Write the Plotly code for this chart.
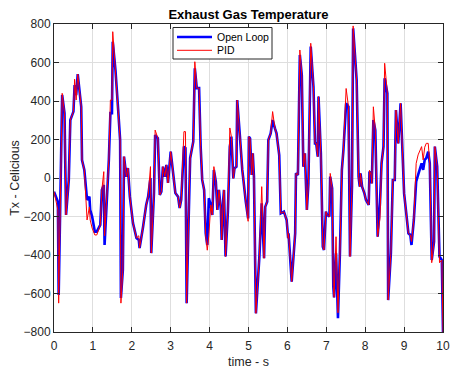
import plotly.graph_objects as go

# time (s)
t = [0.00, 0.10, 0.12, 0.21, 0.27, 0.31, 0.38, 0.42, 0.50, 0.53, 0.57, 0.61, 0.70, 0.72, 0.78,
     0.85, 0.91, 0.93, 0.98, 1.05, 1.10, 1.19, 1.23, 1.28, 1.30, 1.41, 1.45, 1.49, 1.51, 1.58,
     1.65, 1.70, 1.72, 1.77, 1.80, 1.86, 1.90, 1.95, 2.03, 2.12, 2.18, 2.20, 2.29, 2.37, 2.42,
     2.48, 2.50, 2.57, 2.60, 2.67, 2.72, 2.76, 2.80, 2.85, 2.89, 2.93, 3.00, 3.06, 3.12, 3.19,
     3.23, 3.27, 3.34, 3.38, 3.41, 3.44, 3.50, 3.58, 3.62, 3.67, 3.73, 3.77, 3.81, 3.86, 3.90,
     3.94, 3.98, 4.03, 4.07, 4.11, 4.16, 4.20, 4.24, 4.29, 4.31, 4.35, 4.37, 4.41, 4.47, 4.52,
     4.56, 4.61, 4.64, 4.69, 4.71, 4.78, 4.84, 4.93, 4.99, 5.01, 5.04, 5.08, 5.11, 5.14, 5.19,
     5.28, 5.34, 5.40, 5.43, 5.48, 5.51, 5.57, 5.62, 5.68, 5.72, 5.79, 5.83, 5.91, 5.95, 5.98,
     6.02, 6.03, 6.11, 6.20, 6.22, 6.27, 6.32, 6.37, 6.41, 6.45, 6.50, 6.54, 6.60, 6.67, 6.71,
     6.74, 6.78, 6.80, 6.86, 6.91, 6.94, 6.99, 7.02, 7.08, 7.10, 7.15, 7.18, 7.20, 7.25, 7.30,
     7.35, 7.40, 7.44, 7.51, 7.57, 7.61, 7.66, 7.69, 7.74, 7.78, 7.83, 7.86, 7.88, 7.92, 7.98,
     8.02, 8.09, 8.11, 8.15, 8.17, 8.21, 8.26, 8.32, 8.38, 8.42, 8.47, 8.50, 8.57, 8.59, 8.66,
     8.71, 8.76, 8.79, 8.85, 8.91, 8.96, 9.00, 9.06, 9.11, 9.16, 9.19, 9.25, 9.31, 9.36, 9.45,
     9.49, 9.53, 9.57, 9.62, 9.66, 9.71, 9.77, 9.79, 9.85, 9.91, 9.97, 10.00]

# Open Loop exhaust gas temperature
open_loop = [-71, -123, -608, 431, 337, -192, -10, 301, 345, 483, 431, 540, 370, 93, 42,
             -114, -97, -166, -200, -279, -279, -244, -62, -36, -348, 94, 337, 337, 708, 561,
             353, 197, -623, -478, 111, 7, 52, -97, -234, -312, -322, -364, -253, -140, -97,
             0, -390, -78, 223, 207, -88, -71, 59, 7, 68, -26, 137, 26, -78, -97,
             -156, -114, 163, 155, -650, -390, 103, 189, 570, 467, 467, 163, -10, -62, -287,
             -348, -105, -140, -192, 42, -19, -166, -62, -166, -322, -114, -62, -408, -175, 163,
             215, -2, 50, 59, 405, 215, 42, -123, -210, 215, 206, 16, 128, 7, -703,
             -408, -132, -417, -150, -123, 197, 232, 301, 258, 232, 119, -184, -175, -201, -218,
             -313, -288, -538, -287, 24, 16, 639, 535, 59, 128, -166, -28, 683, 474, 180,
             180, 111, 423, 128, -357, -374, -175, -192, -200, 7, -54, -564, -620, -391, -729,
             -390, 42, 145, 388, 371, -408, -45, 777, 630, 509, 7, -45, 24, -45, -80,
             -114, -140, 33, 16, -28, 301, 249, -305, -130, 76, 163, 518, 440, -634, -391,
             -10, -10, 353, 180, 388, 163, -80, -192, -287, -296, -348, -218, -19, 16, 76,
             42, 94, 103, 137, 76, -426, -331, 163, 59, -408, -426, -800]

# PID-controlled exhaust gas temperature
pid = [-71, -166, -650, 440, 337, -192, -10, 301, 345, 513, 405, 540, 370, 93, 42,
       -218, -150, -218, -260, -296, -296, -244, -62, 33, -300, 94, 405, 405, 760, 561,
       353, 197, -650, -478, 111, 7, 52, -97, -234, -312, -300, -364, -253, -140, -97,
       59, -390, -78, 249, 207, -88, -71, 59, 7, 68, -26, 137, 26, -78, -97,
       -156, -114, 241, 241, -650, -390, 103, 189, 604, 467, 467, 163, -10, -62, -300,
       -375, -300, -140, -192, 59, -19, -166, -62, -166, -322, -114, -62, -408, -175, 260,
       215, -2, 50, 59, 405, 215, 42, -123, -225, 215, 206, 16, 128, 7, -703,
       -408, -45, -417, -150, -123, 197, 232, 345, 258, 232, 119, -184, -175, -201, -218,
       -313, -288, -538, -287, 24, 16, 665, 535, 59, 128, -166, -28, 700, 474, 180,
       180, 111, 423, 128, -357, -374, -175, -192, -200, 24, -54, -564, -620, -305, -700,
       -390, 42, 145, 465, 371, -408, -45, 790, 630, 509, 7, -45, 24, -45, -80,
       -114, -140, 40, 16, -28, 370, 249, -305, -210, 76, 163, 596, 440, -634, -391,
       -10, -10, 353, 180, 388, 163, -80, -192, -287, -296, -330, -218, 76, 120, 163,
       94, 160, 180, 180, 76, -440, -331, 163, 59, -440, -426, -800]

x_ticks = [0, 1, 2, 3, 4, 5, 6, 7, 8, 9, 10]
y_ticks = [-800, -600, -400, -200, 0, 200, 400, 600, 800]
series_names = ["Open Loop", "PID"]
series_colors = ["rgb(0,0,255)", "rgb(255,0,0)"]
series_widths = [2.6, 1]

fig = go.Figure()
for name, vals, col, w in zip(series_names, [open_loop, pid], series_colors, series_widths):
    fig.add_trace(go.Scatter(x=t, y=vals, mode="lines", name=name,
                             line=dict(color=col, width=w), showlegend=False))

axis_common = dict(
    showline=True, linecolor="#262626", linewidth=1, mirror="ticks",
    ticks="inside", ticklen=5, tickcolor="#262626",
    showgrid=True, gridcolor="#dedede", gridwidth=1,
    zeroline=False, tickfont=dict(size=12, color="#262626"),
    automargin=False, ticklabeloverflow="allow",
)

W, H = 450, 370
L, R, T_, B = 54, 450 - 443, 24, 370 - 332
pw, ph = W - L - R, H - T_ - B

def px(xw):  # window x pixel -> paper
    return (xw - L) / pw

def py(yw):  # window y pixel -> paper
    return (H - B - yw) / ph

shapes = [dict(type="rect", xref="paper", yref="paper",
               x0=px(173), x1=px(272), y0=py(59), y1=py(27.5),
               line=dict(color="#262626", width=1), fillcolor="white", layer="above")]
annotations = []
for i, (name, col, w) in enumerate(zip(series_names, series_colors, series_widths)):
    yy = 37 + i * 13.3
    shapes.append(dict(type="line", xref="paper", yref="paper",
                       x0=px(177), x1=px(212), y0=py(yy), y1=py(yy),
                       line=dict(color=col, width=w), layer="above"))
    annotations.append(dict(text=name, xref="paper", yref="paper", x=px(214.5), y=py(yy),
                            xanchor="left", yanchor="middle", showarrow=False,
                            font=dict(size=10.5, color="black")))

fig.update_layout(
    width=W, height=H,
    margin=dict(l=L, r=R, t=T_, b=B),
    paper_bgcolor="white", plot_bgcolor="white",
    font=dict(family="Liberation Sans, Arial, sans-serif", color="#262626"),
    title=dict(text="<b>Exhaust Gas Temperature</b>", x=0.5, xref="paper",
               y=1 - 14 / H, yref="container", yanchor="middle", xanchor="center",
               font=dict(size=13, color="black"), automargin=False),
    xaxis=dict(range=[0, 10], tickvals=x_ticks, ticklabelstandoff=3,
               title=dict(text="time - s", font=dict(size=12.5), standoff=4),
               **axis_common),
    yaxis=dict(range=[-800, 800], tickvals=y_ticks,
               title=dict(text="Tx - Celicious", font=dict(size=12.5), standoff=1),
               **axis_common),
    shapes=shapes,
    annotations=annotations,
    showlegend=False,
)

fig.write_html("out.html", config={"displayModeBar": False},
               post_script="document.body.style.margin='0';document.body.style.overflow='hidden';")
